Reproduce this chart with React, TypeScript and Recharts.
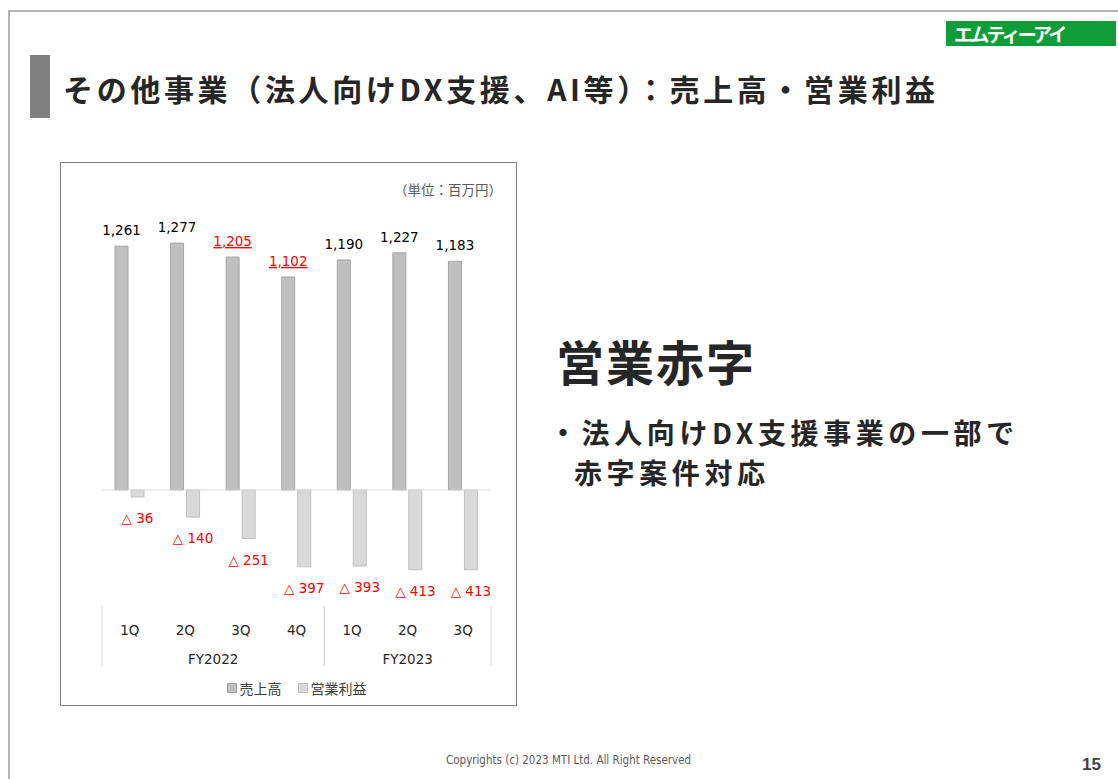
import React from 'react';
import { BarChart, Bar, XAxis, YAxis, ReferenceLine, LabelList, Legend } from 'recharts';

// 四半期ごとの売上高・営業利益 (百万円)
const quarters = ['1Q', '2Q', '3Q', '4Q', '1Q', '2Q', '3Q'];
const fiscalYears = ['FY2022', 'FY2022', 'FY2022', 'FY2022', 'FY2023', 'FY2023', 'FY2023'];
const sales = [1261, 1277, 1205, 1102, 1190, 1227, 1183];
const operatingProfit = [-36, -140, -251, -397, -393, -413, -413];
const highlightedSales = [false, false, true, true, false, false, false];

const data = quarters.map((q, i) => ({
    key: `${fiscalYears[i]}-${q}`,
    sales: sales[i],
    profit: operatingProfit[i],
}));

const FONT = '"Noto Sans CJK JP", "Noto Sans", sans-serif';
const NUM_FONT = '"DejaVu Sans", "Noto Sans CJK JP", sans-serif';

const QuarterTick = (props: any) => {
    const { x, y, payload, width } = props;
    const i: number = payload.index ?? props.index;
    const half: number = payload.offset ?? width / (2 * quarters.length);
    const fy = fiscalYears[i];
    const isStart = i === 0 || fiscalYears[i - 1] !== fy;
    const isEnd = i === fiscalYears.length - 1 || fiscalYears[i + 1] !== fy;
    const groupSize = fiscalYears.filter((f) => f === fy).length;
    return (
        <g fontFamily={NUM_FONT} fontSize={13.5} fill="#262626">
            <text x={x} y={y + 29} textAnchor="middle">{quarters[i]}</text>
            {isStart && <line x1={x - half} x2={x - half} y1={y} y2={y + 60} stroke="#d9d9d9" />}
            {isEnd && <line x1={x + half} x2={x + half} y1={y} y2={y + 60} stroke="#d9d9d9" />}
            {isStart && (
                <text x={x - half + groupSize * half} y={y + 58} textAnchor="middle">{fy}</text>
            )}
        </g>
    );
};

const SalesLabel = (props: any) => {
    const { x, y, width, value, index } = props;
    const red = highlightedSales[index];
    return (
        <text
            x={x + width / 2}
            y={y - 11}
            textAnchor="middle"
            fontFamily={NUM_FONT}
            fontSize={13.5}
            fill={red ? '#ff0000' : '#000000'}
            textDecoration={red ? 'underline' : undefined}
        >
            {Number(value).toLocaleString('en-US')}
        </text>
    );
};

const ProfitLabel = (props: any) => {
    const { x, y, width, height, value } = props;
    const bottom = Math.max(y, y + height);
    return (
        <text x={x + width / 2} y={bottom + 26} textAnchor="middle" fontFamily={NUM_FONT} fontSize={13.5} fill="#ff0000">
            {`△ ${Math.abs(value)}`}
        </text>
    );
};

const LegendContent = () => (
    <div style={{ display: 'flex', justifyContent: 'center', gap: 16, fontFamily: FONT, fontSize: 14, color: '#404040', lineHeight: '18px' }}>
        <span style={{ display: 'flex', alignItems: 'center' }}>
            <span style={{ width: 8, height: 8, background: '#bfbfbf', border: '1px solid #a5a5a5', marginRight: 3 }} />
            売上高
        </span>
        <span style={{ display: 'flex', alignItems: 'center' }}>
            <span style={{ width: 8, height: 8, background: '#d9d9d9', border: '1px solid #bfbfbf', marginRight: 3 }} />
            営業利益
        </span>
    </div>
);

export default function App() {
    return (
        <div style={{ position: 'absolute', left: 0, top: 0, width: 1118, height: 779, background: '#fff', overflow: 'hidden', fontFamily: FONT }}>
            {/* slide frame */}
            <div style={{ position: 'absolute', left: 8, top: 10, width: 1120, height: 800, borderTop: '2px solid #b4b4b4', borderLeft: '2px solid #b4b4b4' }} />

            {/* logo */}
            <div style={{ position: 'absolute', left: 946, top: 21, width: 170, height: 25, background: '#0f9d3a', color: '#fff', fontSize: 19, fontWeight: 700, lineHeight: '25px', paddingLeft: 8, boxSizing: 'border-box', letterSpacing: -2.8 }}>
                エムティーアイ
            </div>

            {/* title */}
            <div style={{ position: 'absolute', left: 30, top: 55, width: 20, height: 63, background: '#808080' }} />
            <div style={{ position: 'absolute', left: 63, top: 67, fontSize: 30, fontWeight: 700, color: '#262626', whiteSpace: 'nowrap', lineHeight: '42px', letterSpacing: 3.65 }}>
                その他事業（法人向けDX支援、AI等）：売上高・営業利益
            </div>

            {/* chart box */}
            <div style={{ position: 'absolute', left: 60, top: 162, width: 457, height: 544, border: '1px solid #7f7f7f', boxSizing: 'border-box' }}>
                <div style={{ position: 'absolute', right: 14, top: 16, fontSize: 13.5, color: '#595959' }}>（単位：百万円）</div>
                <div style={{ position: 'absolute', left: 0, top: 0 }}>
                    <BarChart width={455} height={542} data={data} margin={{ top: 37, right: 25, left: 41, bottom: 39 }} barSize={13} barGap={3}>
                        <YAxis hide domain={[-600, 1500]} />
                        <XAxis dataKey="key" axisLine={false} tickLine={false} tickSize={0} tickMargin={0} height={60} interval={0} tick={<QuarterTick />} />
                        <ReferenceLine y={0} stroke="#d9d9d9" strokeWidth={1} />
                        <Bar dataKey="sales" name="売上高" fill="#bfbfbf" stroke="#a5a5a5" strokeWidth={1} isAnimationActive={false}>
                            <LabelList dataKey="sales" content={<SalesLabel />} />
                        </Bar>
                        <Bar dataKey="profit" name="営業利益" fill="#d9d9d9" stroke="#bfbfbf" strokeWidth={1} isAnimationActive={false}>
                            <LabelList dataKey="profit" content={<ProfitLabel />} />
                        </Bar>
                        <Legend verticalAlign="middle" wrapperStyle={{ top: 516 }} content={<LegendContent />} />
                    </BarChart>
                </div>
            </div>

            {/* right side text */}
            <div style={{ position: 'absolute', left: 556, top: 330, fontSize: 48, fontWeight: 700, color: '#262626', lineHeight: '60px', letterSpacing: 2 }}>営業赤字</div>
            <div style={{ position: 'absolute', left: 549, top: 416, fontSize: 28, fontWeight: 700, color: '#262626', lineHeight: '32px', whiteSpace: 'nowrap', letterSpacing: 4.6 }}>
                ・法人向けDX支援事業の一部で
            </div>
            <div style={{ position: 'absolute', left: 574, top: 456, fontSize: 28, fontWeight: 700, color: '#262626', lineHeight: '32px', whiteSpace: 'nowrap', letterSpacing: 4.6 }}>
                赤字案件対応
            </div>

            {/* footer */}
            <div style={{ position: 'absolute', left: 446, top: 753, fontSize: 11.5, color: '#595959', fontFamily: '"DejaVu Sans Condensed", "Liberation Sans", sans-serif', whiteSpace: 'nowrap' }}>
                Copyrights (c) 2023 MTI Ltd. All Right Reserved
            </div>
            <div style={{ position: 'absolute', left: 1082, top: 755, fontSize: 17, fontWeight: 700, color: '#404040', fontFamily: '"Liberation Sans", sans-serif' }}>15</div>
        </div>
    );
}
